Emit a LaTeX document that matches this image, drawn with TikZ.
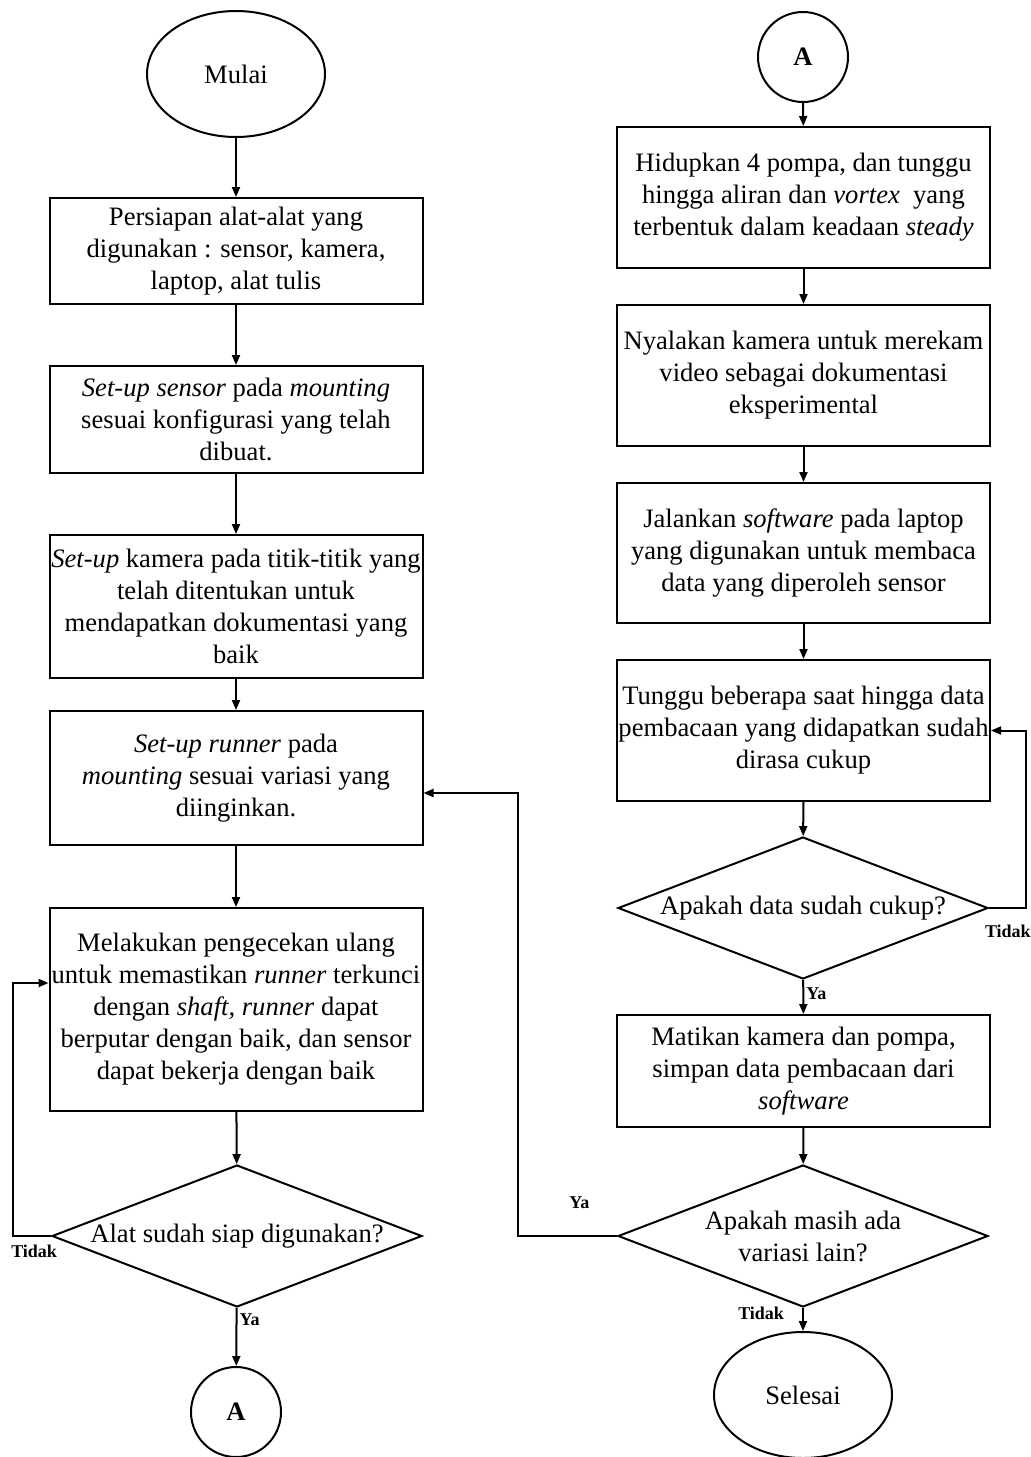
\documentclass[tikz,border=0pt]{standalone}
\usepackage{fontspec}
\setmainfont{Liberation Serif}
\usetikzlibrary{arrows.meta,shapes.geometric}

\begin{document}
\begin{tikzpicture}[x=0.5pt, y=-0.5pt, line width=1pt, -latex, arrows={-Triangle[length=5pt,width=4pt]},
	teks/.style={font=\fontsize{13.3}{16}\selectfont},
	proses/.style={teks, draw, rectangle, minimum width=186.5pt, align=center, inner sep=0pt},
	terminal/.style={teks, draw, ellipse, minimum width=89pt, minimum height=63pt, inner sep=0pt},
	konektor/.style={teks, draw, circle, minimum size=45pt, inner sep=0pt, font=\fontsize{13.3}{16}\selectfont\bfseries},
	keputusan/.style={teks, draw, diamond, aspect=2.6, minimum width=185pt, minimum height=71pt, inner xsep=-8pt, inner ysep=0pt, align=center},
	ket/.style={font=\fontsize{9}{10}\selectfont\bfseries, inner sep=1pt}]
	\useasboundingbox (0,0) rectangle (1031,1457);

	% kolom kiri
	\node [terminal] (mulai) at (236,74) {Mulai};
	\node [proses, minimum height=53pt] (siap) at (236,251) {Persiapan alat-alat yang\\digunakan : sensor, kamera,\\laptop, alat tulis};
	\node [proses, minimum height=53.5pt] (sensor) at (236,419.5) {\emph{Set-up sensor} pada \emph{mounting}\\sesuai konfigurasi yang telah\\dibuat.};
	\node [proses, minimum height=71.5pt] (kamera) at (236,606.5) {\emph{Set-up} kamera pada titik-titik yang\\telah ditentukan untuk\\mendapatkan dokumentasi yang\\baik};
	\node [proses, minimum height=67pt] (runner) at (236,778) {\emph{Set-up runner} pada\\\emph{mounting} sesuai variasi yang\\diinginkan.};
	\node [proses, minimum height=101.5pt] (cek) at (236,1009.5) {Melakukan pengecekan ulang\\untuk memastikan \emph{runner} terkunci\\dengan \emph{shaft, runner} dapat\\berputar dengan baik, dan sensor\\dapat bekerja dengan baik};
	\node [keputusan] (alat) at (237,1236) {Alat sudah siap digunakan?};
	\node [konektor] (A1) at (236,1412) {A};

	% kolom kanan
	\node [konektor] (A2) at (803,57) {A};
	\node [proses, minimum height=70.5pt] (pompa) at (803.5,197.5) {Hidupkan 4 pompa, dan tunggu\\hingga aliran dan \emph{vortex}\ \ yang\\terbentuk dalam keadaan \emph{steady}};
	\node [proses, minimum height=70.5pt] (rekam) at (803.5,375.5) {Nyalakan kamera untuk merekam\\video sebagai dokumentasi\\eksperimental};
	\node [proses, minimum height=70pt] (software) at (803.5,553) {Jalankan \emph{software} pada laptop\\yang digunakan untuk membaca\\data yang diperoleh sensor};
	\node [proses, minimum height=70.5pt] (tunggu) at (803.5,730.5) {Tunggu beberapa saat hingga data\\pembacaan yang didapatkan sudah\\dirasa cukup};
	\node [keputusan] (cukup) at (803,908) {Apakah data sudah cukup?};
	\node [proses, minimum height=56pt] (matikan) at (803.5,1071) {Matikan kamera dan pompa,\\simpan data pembacaan dari\\\emph{software}};
	\node [keputusan] (variasi) at (803,1236) {Apakah masih ada\\variasi lain?};
	\node [terminal] (selesai) at (803,1395) {Selesai};

	\draw (mulai) to (siap);
	\draw (siap) to (sensor);
	\draw (sensor) to (kamera);
	\draw (kamera) to (runner);
	\draw (runner) to (cek);
	\draw (cek) to (alat);
	\draw (alat) to node [ket, pos=0.2, right] {Ya} (A1);
	\coordinate (balik1) at (13,983);
	\draw (alat.west) node [ket, anchor=north east, xshift=4.5pt, yshift=-3pt] {Tidak} -| (balik1) -- (balik1 -| cek.west);

	\draw (A2) to (pompa);
	\draw (pompa) to (rekam);
	\draw (rekam) to (software);
	\draw (software) to (tunggu);
	\draw (tunggu) to (cukup);
	\draw (cukup.east) node [ket, anchor=north west, xshift=-3.5pt, yshift=-7pt] {Tidak} -- ++(37,0) |- (tunggu.east);
	\draw (cukup) to node [ket, pos=0.4, right] {Ya} (matikan);
	\draw (matikan) to (variasi);
	\draw (variasi) to node [ket, pos=0.25, left=8pt] {Tidak} (selesai);
	\coordinate (balik2) at (518,793);
	\draw (variasi.west) -| node [ket, pos=0.19, above=12pt] {Ya} (balik2) -- (balik2 -| runner.east);
\end{tikzpicture}
\end{document}
